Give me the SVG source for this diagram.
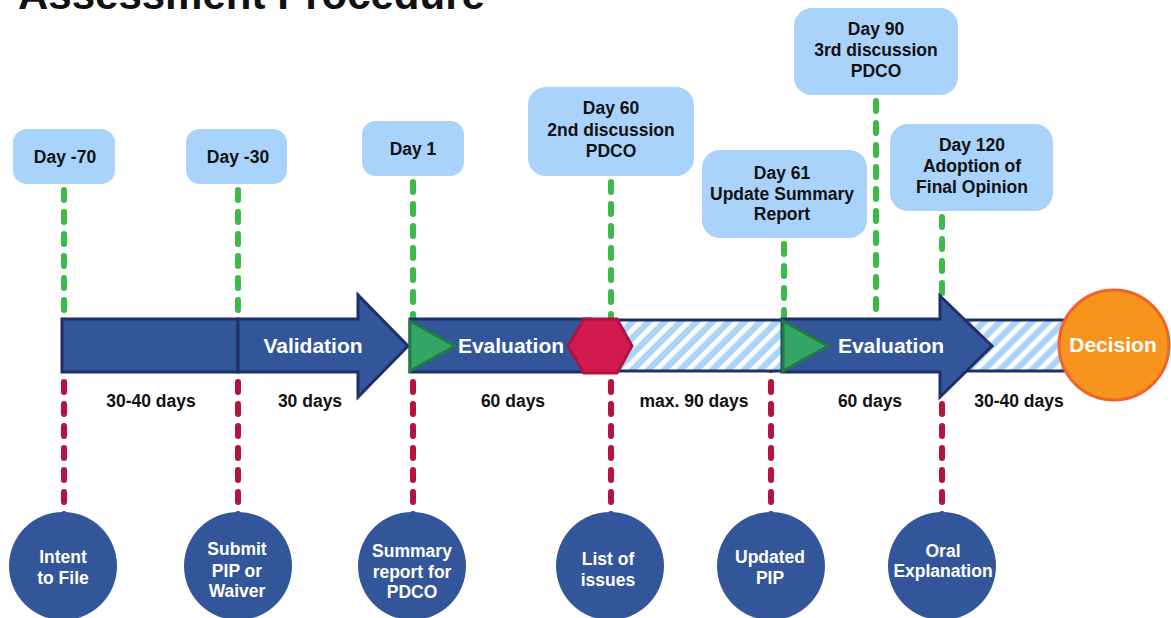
<svg xmlns="http://www.w3.org/2000/svg" width="1171" height="618" viewBox="0 0 1171 618">
  <style>
    .title { font-family: "Liberation Sans", Arial, sans-serif; font-weight: bold; font-size: 42px; fill: #111; }
    .lbl { font-family: "Liberation Sans", Arial, sans-serif; font-weight: bold; font-size: 17.5px; fill: #111; text-anchor: middle; }
    .wlbl { font-family: "Liberation Sans", Arial, sans-serif; font-weight: bold; font-size: 17.5px; fill: #fff; text-anchor: middle; }
    .band { font-family: "Liberation Sans", Arial, sans-serif; font-weight: bold; font-size: 21px; fill: #fff; text-anchor: middle; }
    .box { fill: #A9D3FB; }
    .circ { fill: #33569A; }
    .seg { fill: #33559A; stroke: #1E3066; stroke-width: 3; stroke-linejoin: miter; }
    .tri { fill: #33A665; stroke: #237A45; stroke-width: 3; stroke-linejoin: miter; }
    .green { stroke: #3DB94A; stroke-width: 6; stroke-linecap: round; stroke-dasharray: 10 12; fill: none; }
    .red { stroke: #B5133F; stroke-width: 6; stroke-linecap: round; stroke-dasharray: 10 12; fill: none; }
  </style>
  <defs>
    <pattern id="hatch" patternUnits="userSpaceOnUse" width="11.3" height="11.3" patternTransform="rotate(45)">
      <rect width="11.3" height="11.3" fill="#A9D3FB"/>
      <rect width="5" height="11.3" fill="#fff"/>
    </pattern>
  </defs>

  <rect width="1171" height="618" fill="#fff"/>
  <text class="title" x="18" y="9">Assessment Procedure</text>

  <!-- connectors: green above the timeline, red below it -->
  <g id="connectors">
    <line class="green" x1="64" y1="190" x2="64" y2="340"/>
    <line class="green" x1="238" y1="190" x2="238" y2="340"/>
    <line class="green" x1="413" y1="182" x2="413" y2="340"/>
    <line class="green" x1="611" y1="182" x2="611" y2="340"/>
    <line class="green" x1="784" y1="244" x2="784" y2="340"/>
    <line class="green" x1="876" y1="101" x2="876" y2="340"/>
    <line class="green" x1="942" y1="217" x2="942" y2="340"/>
    <line class="red" x1="64" y1="360" x2="64" y2="515"/>
    <line class="red" x1="238" y1="360" x2="238" y2="515"/>
    <line class="red" x1="413" y1="360" x2="413" y2="515"/>
    <line class="red" x1="611" y1="360" x2="611" y2="515"/>
    <line class="red" x1="771" y1="360" x2="771" y2="515"/>
    <line class="red" x1="942" y1="360" x2="942" y2="515"/>
  </g>

  <!-- timeline band -->
  <g id="timeline">
    <rect x="590" y="320" width="480" height="51" fill="url(#hatch)" stroke="#1E3066" stroke-width="3"/>
    <rect class="seg" x="62" y="319" width="176" height="53"/>
    <rect class="seg" x="410" y="319" width="180" height="53"/>
    <polygon class="seg" points="238,319 358,319 358,295 408,346 358,397 358,372 238,372"/>
    <polygon class="seg" points="782,319 940,319 940,296 992,346 940,397 940,372 782,372"/>
  </g>

  <g id="validation">
    <text class="band" x="313" y="353">Validation</text>
  </g>
  <g id="evaluation-1">
    <polygon class="tri" points="410,321 410,371 455,346"/>
    <text class="band" x="511" y="353">Evaluation</text>
  </g>
  <g id="list-issued">
    <polygon points="568,346 584,319 617,319 632,346 617,373 584,373" fill="#D31A4E" stroke="#B0143E" stroke-width="3"/>
  </g>
  <g id="evaluation-2">
    <polygon class="tri" points="783,321 783,371 828,346"/>
    <text class="band" x="891" y="353">Evaluation</text>
  </g>
  <g id="decision">
    <circle cx="1114" cy="345" r="55" fill="#F7941D" stroke="#F0632A" stroke-width="3"/>
    <text class="band" x="1113" y="352" font-size="21.5">Decision</text>
  </g>

  <!-- durations -->
  <g id="durations">
    <text class="lbl" x="151" y="407">30-40 days</text>
    <text class="lbl" x="310" y="407">30 days</text>
    <text class="lbl" x="513" y="407">60 days</text>
    <text class="lbl" x="694" y="407">max. 90 days</text>
    <text class="lbl" x="870" y="407">60 days</text>
    <text class="lbl" x="1019" y="407">30-40 days</text>
  </g>

  <!-- milestone boxes -->
  <g id="day-minus-70">
    <rect class="box" x="13" y="129" width="102" height="55" rx="14"/>
    <text class="lbl" x="65" y="163">Day -70</text>
  </g>
  <g id="day-minus-30">
    <rect class="box" x="186" y="129" width="101" height="55" rx="14"/>
    <text class="lbl" x="238" y="163">Day -30</text>
  </g>
  <g id="day-1">
    <rect class="box" x="362" y="121" width="102" height="55" rx="14"/>
    <text class="lbl" x="413" y="155">Day 1</text>
  </g>
  <g id="day-60">
    <rect class="box" x="528" y="87" width="166" height="89" rx="18"/>
    <text class="lbl" x="611" y="114">Day 60</text>
    <text class="lbl" x="611" y="136">2nd discussion</text>
    <text class="lbl" x="611" y="157">PDCO</text>
  </g>
  <g id="day-61">
    <rect class="box" x="702" y="150" width="165" height="88" rx="18"/>
    <text class="lbl" x="782" y="179">Day 61</text>
    <text class="lbl" x="782" y="200">Update Summary</text>
    <text class="lbl" x="782" y="220">Report</text>
  </g>
  <g id="day-90">
    <rect class="box" x="794" y="8" width="164" height="87" rx="18"/>
    <text class="lbl" x="876" y="35">Day 90</text>
    <text class="lbl" x="876" y="56">3rd discussion</text>
    <text class="lbl" x="876" y="77">PDCO</text>
  </g>
  <g id="day-120">
    <rect class="box" x="890" y="124" width="163" height="87" rx="18"/>
    <text class="lbl" x="972" y="151">Day 120</text>
    <text class="lbl" x="972" y="172">Adoption of</text>
    <text class="lbl" x="972" y="193">Final Opinion</text>
  </g>

  <!-- deliverables -->
  <g id="intent-to-file">
    <circle class="circ" cx="63" cy="566" r="54"/>
    <text class="wlbl" x="63" y="563">Intent</text>
    <text class="wlbl" x="63" y="584">to File</text>
  </g>
  <g id="submit-pip">
    <circle class="circ" cx="238" cy="566" r="54"/>
    <text class="wlbl" x="237" y="555">Submit</text>
    <text class="wlbl" x="237" y="577">PIP or</text>
    <text class="wlbl" x="237" y="597">Waiver</text>
  </g>
  <g id="summary-report">
    <circle class="circ" cx="412" cy="566" r="54"/>
    <text class="wlbl" x="412" y="557">Summary</text>
    <text class="wlbl" x="412" y="578">report for</text>
    <text class="wlbl" x="412" y="598">PDCO</text>
  </g>
  <g id="list-of-issues">
    <circle class="circ" cx="610" cy="566" r="54"/>
    <text class="wlbl" x="608" y="565">List of</text>
    <text class="wlbl" x="608" y="586">issues</text>
  </g>
  <g id="updated-pip">
    <circle class="circ" cx="771" cy="566" r="54"/>
    <text class="wlbl" x="770" y="563">Updated</text>
    <text class="wlbl" x="770" y="584">PIP</text>
  </g>
  <g id="oral-explanation">
    <circle class="circ" cx="942" cy="566" r="54"/>
    <text class="wlbl" x="943" y="557">Oral</text>
    <text class="wlbl" x="943" y="577">Explanation</text>
  </g>
</svg>
